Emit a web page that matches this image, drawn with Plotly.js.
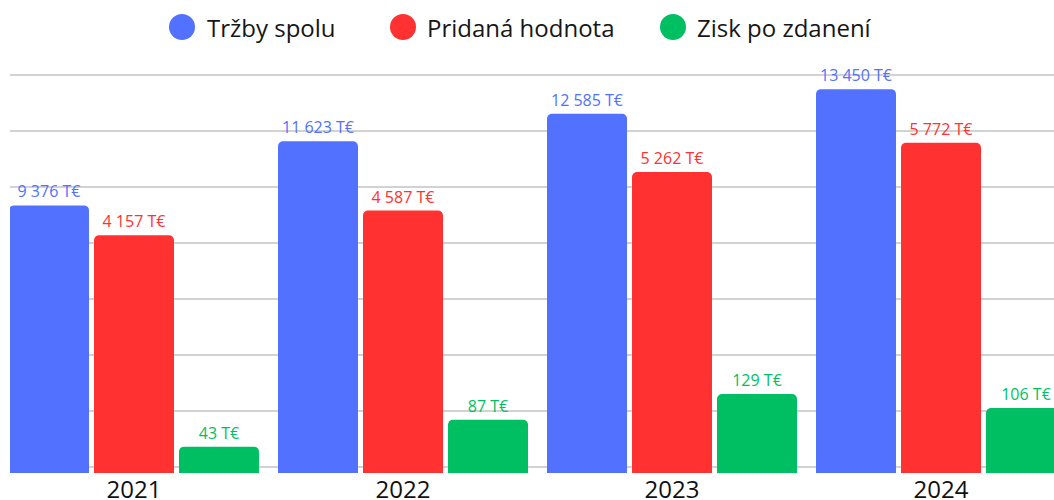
<!DOCTYPE html>
<html>
<head>
<meta charset="utf-8">
<script src="https://cdn.plot.ly/plotly-3.0.1.min.js"></script>
<style>html,body{margin:0;padding:0;background:#fff;}#chart{width:1054px;height:500px;}</style>
</head>
<body>
<div id="chart"></div>
<script>
const years = ['2021', '2022', '2023', '2024'];
const seriesNames = ['Tržby spolu', 'Pridaná hodnota', 'Zisk po zdanení'];
const trzby = [9376, 11623, 12585, 13450];
const pridana = [4157, 4587, 5262, 5772];
const zisk = [43, 87, 129, 106];
const colors = ['#5271FF', '#FF3131', '#00BF63'];

const W = 1054, H = 500;
const mL = 10, mR = 0, mT = 60, mB = 27;
const plotW = W - mL - mR, plotH = H - mT - mB;
const catPx = 269;
const barPx = 80;
const offsetsPx = [-125, -40, 45];
const font = '"Open Sans", Lato, sans-serif';
const axisMax = [14471, 7220, 674];

const values = [trzby, pridana, zisk];
const axes = ['y', 'y2', 'y3'];
const traces = values.map((v, i) => ({
  type: 'bar',
  name: seriesNames[i],
  x: years,
  y: v,
  yaxis: axes[i],
  width: barPx / catPx,
  offset: offsetsPx[i] / catPx,
  marker: {color: colors[i], cornerradius: 5},
  texttemplate: '%{y:,} T€',
  textposition: 'outside',
  textfont: {family: font, size: 16, color: colors[i]},
  cliponaxis: false,
  showlegend: false,
  hovertemplate: seriesNames[i] + ': %{y:,} T€<extra>%{x}</extra>'
}));

const xStart = -(134 - mL) / catPx;
const gridStepPx = 56, gridOffsetPx = 6;

const shapes = [], annotations = [];
// darker base line
shapes.push({type: 'line', xref: 'paper', yref: 'paper', x0: 0, x1: 1,
  y0: gridOffsetPx / plotH, y1: gridOffsetPx / plotH, layer: 'between',
  line: {color: '#999999', width: 1.5}});

const legendCircleX = [182, 403, 673];
const legendTextX = [205, 425, 695];
const legendY = (H - mB - 27) / plotH;
seriesNames.forEach((n, i) => {
  const cx = (legendCircleX[i] - mL) / plotW;
  shapes.push({type: 'circle', xref: 'paper', yref: 'paper', xsizemode: 'pixel', ysizemode: 'pixel',
    xanchor: cx, yanchor: legendY, x0: -13, x1: 13, y0: -13, y1: 13,
    fillcolor: colors[i], line: {width: 0}});
  annotations.push({xref: 'paper', yref: 'paper', x: (legendTextX[i] - mL) / plotW, y: legendY,
    xanchor: 'left', yanchor: 'middle', showarrow: false, text: n,
    font: {family: font, size: 24, color: '#161616'}});
});

const hidden = {showgrid: false, zeroline: false, showticklabels: false, ticks: '', showline: false, fixedrange: true};

const layout = {
  width: W, height: H,
  margin: {l: mL, r: mR, t: mT, b: mB},
  paper_bgcolor: '#fff', plot_bgcolor: 'rgba(0,0,0,0)',
  separators: ', ',
  showlegend: false,
  xaxis: {type: 'category', range: [xStart, xStart + plotW / catPx], showgrid: false, zeroline: false,
    showline: false, ticks: '', tickfont: {family: font, size: 24, color: '#111'}, fixedrange: true},
  yaxis: {range: [0, axisMax[0]],
    tickmode: 'linear',
    tick0: axisMax[0] * (gridOffsetPx + gridStepPx) / plotH,
    dtick: axisMax[0] * gridStepPx / plotH,
    showgrid: true, gridcolor: '#d2d2d2', gridwidth: 1.5,
    zeroline: false, showticklabels: false, ticks: '', showline: false, fixedrange: true},
  yaxis2: Object.assign({overlaying: 'y', range: [0, axisMax[1]]}, hidden),
  yaxis3: Object.assign({overlaying: 'y', range: [0, axisMax[2]]}, hidden),
  shapes: shapes,
  annotations: annotations
};

Plotly.newPlot('chart', traces, layout, {displayModeBar: false, responsive: false});
</script>
</body>
</html>
